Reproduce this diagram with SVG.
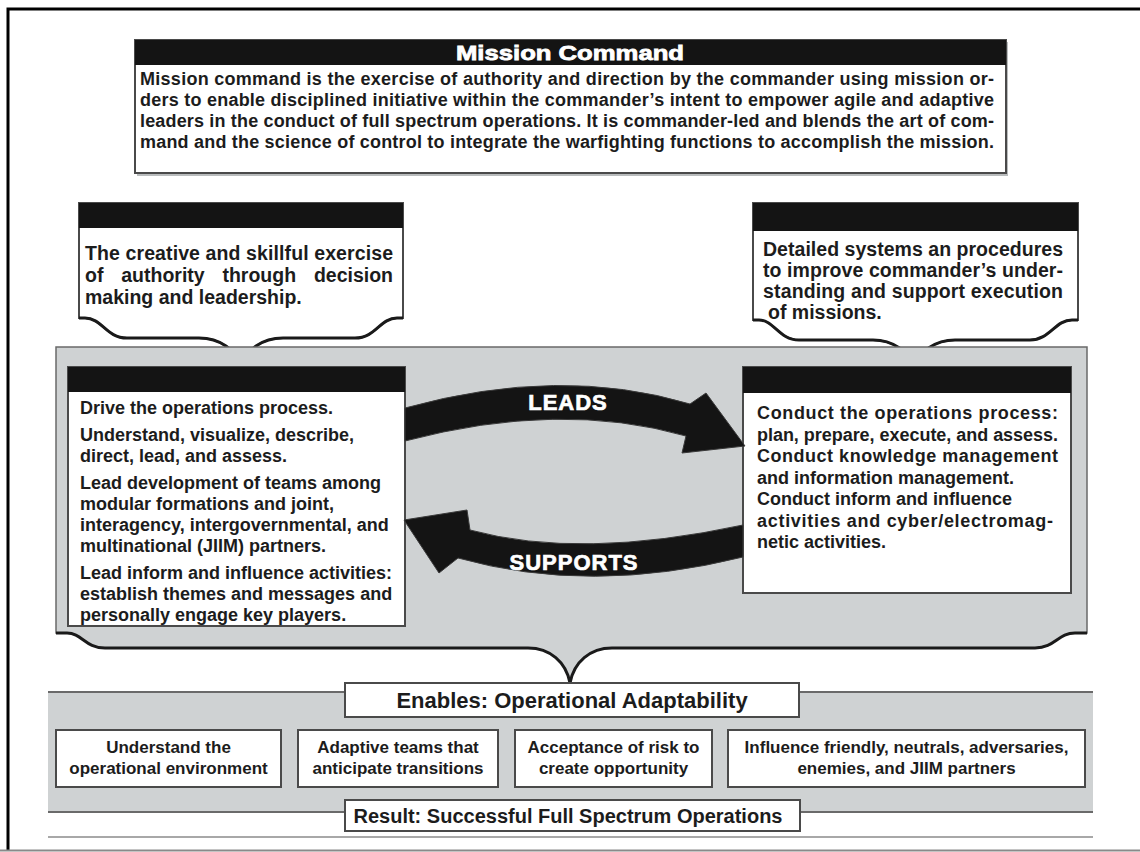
<svg xmlns="http://www.w3.org/2000/svg" width="1140" height="852" viewBox="0 0 1140 852">
  <style>
    .txt { font-family: "Liberation Sans", Arial, Helvetica, sans-serif; font-weight: bold; fill: #1c1c1c; }
    .s18 { font-size: 18px; }
    .s19 { font-size: 19.5px; }
    .s17 { font-size: 17px; }
    .mid { text-anchor: middle; }
    .box { fill: #ffffff; stroke: #4a4a4a; stroke-width: 2; }
    .shadow { fill: #b9bcbd; }
    .hdr { fill: #141414; }
    .panel { fill: #cfd2d3; }
    .brace { fill: none; stroke: #1a1a1a; stroke-width: 3; stroke-linejoin: round; }
    .arrow { fill: #141414; stroke: #3a3a3a; stroke-width: 1; }
    .label { font-family: "Liberation Sans", Arial, sans-serif; font-weight: bold; font-size: 22px; fill: #ffffff; stroke: #ffffff; stroke-width: 0.7; letter-spacing: 1px; text-anchor: middle; }
  </style>

  <rect width="1140" height="852" fill="#ffffff"/>

  <!-- outer frame -->
  <g id="frame">
    <path d="M1140,9 H8 V850" fill="none" stroke="#000" stroke-width="3"/>
    <line x1="0" y1="850.5" x2="1140" y2="850.5" stroke="#8a8a8a" stroke-width="2"/>
  </g>

  <!-- Mission Command definition -->
  <g id="mission-command">
    <rect class="shadow" x="137" y="42" width="871" height="134"/>
    <rect class="box" x="135" y="40" width="871" height="133"/>
    <rect class="hdr" x="135" y="40" width="871" height="25"/>
    <text class="mid" x="570" y="60" font-family="Liberation Sans, Arial, sans-serif" font-weight="bold" font-size="21" fill="#fff" stroke="#fff" stroke-width="0.8" textLength="228" lengthAdjust="spacingAndGlyphs">Mission Command</text>
    <g class="txt s18">
      <text x="140" y="85" textLength="854" lengthAdjust="spacing">Mission command is the exercise of authority and direction by the commander using mission or-</text>
      <text x="140" y="106" textLength="854" lengthAdjust="spacing">ders to enable disciplined initiative within the commander’s intent to empower agile and adaptive</text>
      <text x="140" y="127" textLength="854" lengthAdjust="spacing">leaders in the conduct of full spectrum operations. It is commander-led and blends the art of com-</text>
      <text x="140" y="148" textLength="854" lengthAdjust="spacing">mand and the science of control to integrate the warfighting functions to accomplish the mission.</text>
    </g>
  </g>

  <!-- art of command callout -->
  <g id="callout-art">
    <path class="box" d="M79,203 H403 V318 H397 C380,318 376,338 355,338 H283 C262,338 246,350 241,366 C236,350 220,338 199,338 H127 C106,338 102,318 85,318 H79 Z"/>
    <path class="brace" d="M403,318 H397 C380,318 376,338 355,338 H283 C262,338 246,350 241,366 C236,350 220,338 199,338 H127 C106,338 102,318 85,318 H79"/>
    <rect class="hdr" x="79" y="203" width="324" height="25"/>
    <g class="txt s19">
      <text x="85" y="260" textLength="308" lengthAdjust="spacing">The creative and skillful exercise</text>
      <text x="85" y="282" word-spacing="12.4">of authority through decision</text>
      <text x="85" y="304">making and leadership.</text>
    </g>
  </g>

  <!-- science of control callout -->
  <g id="callout-science">
    <path class="box" d="M753,203 H1078 V320 H1072 C1055,320 1050,340 1030,340 H955 C935,340 919,352 914,366 C909,352 893,340 873,340 H799 C779,340 774,320 759,320 H753 Z"/>
    <path class="brace" d="M1078,320 H1072 C1055,320 1050,340 1030,340 H955 C935,340 919,352 914,366 C909,352 893,340 873,340 H799 C779,340 774,320 759,320 H753"/>
    <rect class="hdr" x="753" y="203" width="325" height="28"/>
    <g class="txt s19">
      <text x="763" y="256" textLength="300" lengthAdjust="spacing">Detailed systems an procedures</text>
      <text x="763" y="277" textLength="300" lengthAdjust="spacing">to improve commander’s under-</text>
      <text x="763" y="298" textLength="300" lengthAdjust="spacing">standing and support execution</text>
      <text x="768" y="319">of missions.</text>
    </g>
  </g>

  <!-- shaded panel holding the two functions -->
  <g id="functions-panel">
    <path class="panel" stroke="#6a6a6a" stroke-width="1.5" d="M56,347 H1087 V633 H1075 C1058,633 1055,648 1035,648 H612 C590,648 574,662 570,683 C566,662 550,648 528,648 H105 C85,648 82,633 67,633 H56 Z"/>
    <path class="brace" d="M1087,633 H1075 C1058,633 1055,648 1035,648 H612 C590,648 574,662 570,683 C566,662 550,648 528,648 H105 C85,648 82,633 67,633 H56"/>
  </g>

  <!-- commander tasks -->
  <g id="box-commander">
    <rect class="box" x="68" y="367" width="337" height="259"/>
    <rect class="hdr" x="68" y="367" width="337" height="25"/>
    <g class="txt s18">
      <text x="80" y="414">Drive the operations process.</text>
      <text x="80" y="441">Understand, visualize, describe,</text>
      <text x="80" y="462">direct, lead, and assess.</text>
      <text x="80" y="489">Lead development of teams among</text>
      <text x="80" y="510">modular formations and joint,</text>
      <text x="80" y="531">interagency, intergovernmental, and</text>
      <text x="80" y="552">multinational (JIIM) partners.</text>
      <text x="80" y="579">Lead inform and influence activities:</text>
      <text x="80" y="600">establish themes and messages and</text>
      <text x="80" y="621">personally engage key players.</text>
    </g>
  </g>

  <!-- staff tasks -->
  <g id="box-staff">
    <rect class="box" x="743" y="367" width="328" height="226"/>
    <rect class="hdr" x="743" y="367" width="328" height="26"/>
    <g class="txt s18">
      <text x="757" y="419" textLength="301" lengthAdjust="spacing">Conduct the operations process:</text>
      <text x="757" y="440.5" textLength="301" lengthAdjust="spacing">plan, prepare, execute, and assess.</text>
      <text x="757" y="462" textLength="301" lengthAdjust="spacing">Conduct knowledge management</text>
      <text x="757" y="483.5">and information management.</text>
      <text x="757" y="505">Conduct inform and influence</text>
      <text x="757" y="526.5" textLength="296" lengthAdjust="spacing">activities and cyber/electromag-</text>
      <text x="757" y="548">netic activities.</text>
    </g>
  </g>

  <!-- LEADS / SUPPORTS arrows -->
  <g id="connectors">
    <path class="arrow" d="M405,408 Q560,365 690,404 L706,393 L745,446 L682,453 L686,436 Q560,400 405,441 Z"/>
    <path class="arrow" d="M743,525 Q580,560 470,530 L467,510 L404,520 L439,573 L458,558 Q590,595 743,557 Z"/>
    <text class="label" x="568" y="410">LEADS</text>
    <text class="label" x="574" y="570">SUPPORTS</text>
  </g>

  <!-- operational adaptability band -->
  <g id="adaptability-panel">
    <rect class="panel" x="48" y="692" width="1045" height="120"/>
    <line x1="48" y1="692" x2="1093" y2="692" stroke="#6a6a6a" stroke-width="2"/>
    <line x1="48" y1="812" x2="1093" y2="812" stroke="#6a6a6a" stroke-width="2"/>
    <line x1="48" y1="837" x2="1093" y2="837" stroke="#a8a8a8" stroke-width="2"/>
  </g>

  <g id="enables">
    <rect class="box" x="345" y="683" width="454" height="34"/>
    <text class="txt mid" x="572" y="708" font-size="22">Enables: Operational Adaptability</text>
  </g>

  <g id="item-environment">
    <rect class="box" x="56" y="730" width="225" height="57"/>
    <text class="txt s17 mid" x="168.5" y="753">Understand the</text>
    <text class="txt s17 mid" x="168.5" y="774">operational environment</text>
  </g>
  <g id="item-teams">
    <rect class="box" x="298" y="730" width="200" height="57"/>
    <text class="txt s17 mid" x="398" y="753">Adaptive teams that</text>
    <text class="txt s17 mid" x="398" y="774">anticipate transitions</text>
  </g>
  <g id="item-risk">
    <rect class="box" x="515" y="730" width="197" height="57"/>
    <text class="txt s17 mid" x="613.5" y="753">Acceptance of risk to</text>
    <text class="txt s17 mid" x="613.5" y="774">create opportunity</text>
  </g>
  <g id="item-influence">
    <rect class="box" x="728" y="730" width="357" height="57"/>
    <text class="txt s17 mid" x="906.5" y="753">Influence friendly, neutrals, adversaries,</text>
    <text class="txt s17 mid" x="906.5" y="774">enemies, and JIIM partners</text>
  </g>

  <g id="result">
    <rect class="box" x="345" y="800" width="455" height="31"/>
    <text class="txt mid" x="568" y="823" font-size="20">Result: Successful Full Spectrum Operations</text>
  </g>
</svg>
